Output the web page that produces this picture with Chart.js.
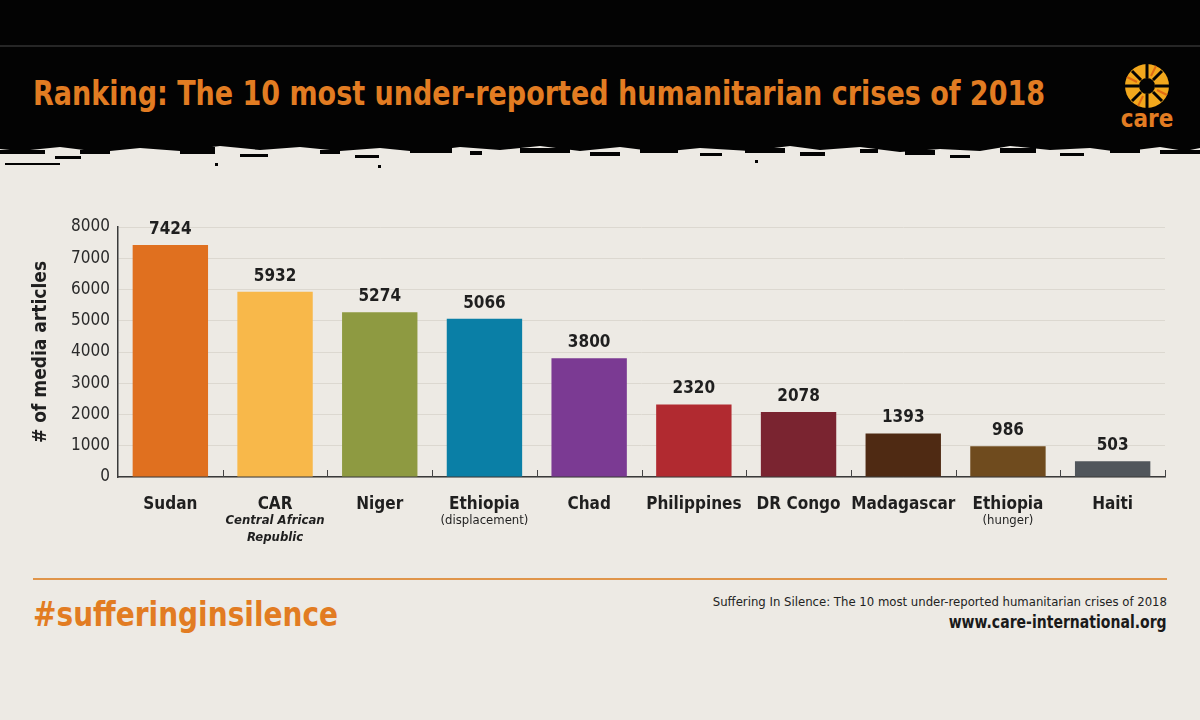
<!DOCTYPE html>
<html>
<head>
<meta charset="utf-8">
<script src="https://cdn.jsdelivr.net/npm/chart.js@4"></script>
<style>
  html, body { margin: 0; padding: 0; }
  body {
    width: 1200px; height: 720px; overflow: hidden; position: relative;
    background: #edeae4;
    font-family: "DejaVu Sans Condensed", "DejaVu Sans", sans-serif;
  }
  #kopf { position: absolute; left: 0; top: 0; width: 1200px; height: 175px; }
  .fit { transform-origin: 0 50%; white-space: nowrap; }
  #titel {
    position: absolute; left: 33px; top: 74px;
    color: #e27c22; font-weight: bold; font-size: 33px;
  }
  #chart-box { position: absolute; left: 30px; top: 190px; width: 1150px; height: 370px; }
  #linie { position: absolute; left: 33px; top: 578px; width: 1134px; height: 2px; background: #e0954a; }
  #hashtag {
    position: absolute; left: 33px; top: 594px;
    color: #e27c22; font-weight: bold; font-size: 34px;
  }
  #quelle {
    position: absolute; right: 33px; top: 594px; text-align: right;
    color: #222; font-size: 13px; white-space: nowrap;
  }
  #web {
    position: absolute; right: 33px; top: 611px;
    color: #1a1a1a; font-size: 18px; font-weight: bold;
    transform-origin: 100% 50%;
  }
</style>
</head>
<body>

<!-- Kopfbereich mit Pinselkante -->
<svg id="kopf" width="1200" height="175" viewBox="0 0 1200 175">
  <rect x="0" y="0" width="1200" height="45" fill="#030303"/>
  <rect x="0" y="45" width="1200" height="2" fill="#262626"/>
  <path d="M0 47 H1200 V148 L1185 151 L1160 147 L1120 152 L1090 148 L1050 150 L1010 146 L980 151 L940 149
           L900 152 L860 147 L820 150 L790 146 L750 151 L700 148 L660 152 L620 147 L580 151 L540 146 L500 150
           L460 147 L420 152 L380 148 L340 151 L300 147 L260 150 L220 146 L180 151 L140 148 L100 152 L60 147
           L20 151 L0 149 Z" fill="#030303"/>
  <g fill="#030303">
    <rect x="0" y="150" width="45" height="4"/>
    <rect x="55" y="156" width="26" height="3"/>
    <rect x="80" y="150" width="30" height="4"/>
    <rect x="180" y="147" width="35" height="7"/>
    <rect x="240" y="154" width="28" height="3"/>
    <rect x="320" y="150" width="20" height="4"/>
    <rect x="355" y="155" width="24" height="3"/>
    <rect x="410" y="148" width="42" height="5"/>
    <rect x="470" y="151" width="12" height="4"/>
    <rect x="520" y="148" width="50" height="5"/>
    <rect x="590" y="152" width="30" height="4"/>
    <rect x="640" y="147" width="38" height="6"/>
    <rect x="700" y="153" width="22" height="3"/>
    <rect x="745" y="148" width="40" height="5"/>
    <rect x="800" y="152" width="25" height="4"/>
    <rect x="860" y="149" width="18" height="4"/>
    <rect x="905" y="150" width="30" height="5"/>
    <rect x="950" y="155" width="20" height="3"/>
    <rect x="1000" y="148" width="36" height="5"/>
    <rect x="1060" y="153" width="24" height="3"/>
    <rect x="1110" y="148" width="30" height="5"/>
    <rect x="1160" y="150" width="40" height="4"/>
    <rect x="5" y="163" width="55" height="2"/>
    <rect x="215" y="163" width="3" height="3"/>
    <rect x="378" y="165" width="3" height="3"/>
    <rect x="755" y="160" width="3" height="3"/>
  </g>
  <!-- Logo -->
  <g transform="translate(1147,86)">
    <circle r="22" fill="#f2a81d"/>
    <g stroke="#030303" stroke-width="3">
      <line x1="0" y1="-8" x2="0" y2="-22"/>
      <line x1="8" y1="0" x2="22" y2="0"/>
      <line x1="0" y1="8" x2="0" y2="22"/>
      <line x1="-8" y1="0" x2="-22" y2="0"/>
      <line x1="6" y1="-6" x2="15" y2="-15"/>
      <line x1="6" y1="6" x2="15" y2="15"/>
      <line x1="-6" y1="6" x2="-15" y2="15"/>
      <line x1="-6" y1="-6" x2="-15" y2="-15"/>
    </g>
    <g stroke="#e06a12" stroke-width="2">
      <line x1="4" y1="-10" x2="9" y2="-20"/>
      <line x1="10" y1="4" x2="20" y2="9"/>
      <line x1="-4" y1="10" x2="-9" y2="20"/>
      <line x1="-10" y1="-4" x2="-20" y2="-9"/>
    </g>
    <circle r="8" fill="#030303"/>
    <text x="0" y="41" text-anchor="middle" fill="#e27c22" font-weight="bold" font-size="24"
          font-family="DejaVu Sans Condensed, sans-serif">care</text>
  </g>
</svg>
<div id="titel" class="fit">Ranking: The 10 most under-reported humanitarian crises of 2018</div>

<div id="chart-box"><canvas id="chart-krisen"></canvas></div>

<div id="linie"></div>
<div id="hashtag" class="fit">#sufferinginsilence</div>
<div id="quelle">Suffering In Silence: The 10 most under-reported humanitarian crises of 2018</div>
<div id="web" class="fit">www.care-international.org</div>

<script>
// ── Daten ──
const laender    = ['Sudan', 'CAR', 'Niger', 'Ethiopia', 'Chad', 'Philippines', 'DR Congo', 'Madagascar', 'Ethiopia', 'Haiti'];
const zusatz     = ['', 'Central African\nRepublic', '', '(displacement)', '', '', '', '', '(hunger)', ''];
const artikel    = [7424, 5932, 5274, 5066, 3800, 2320, 2078, 1393, 986, 503];
const yTicks     = [0, 1000, 2000, 3000, 4000, 5000, 6000, 7000, 8000];
const balkenFarben = ['#e0701f', '#f8b84a', '#8e9a41', '#0a7fa6', '#7b3a93', '#b12a30', '#7a2430', '#4f2a13', '#6f4b1e', '#51565b'];

const SCHRIFT = '"DejaVu Sans Condensed", "DejaVu Sans", sans-serif';

// schmale Schrift nachbilden: Text auf Zielbreite stauchen
function aufBreite(id, breite) {
  const el = document.getElementById(id);
  const w = el.getBoundingClientRect().width;
  el.style.transform = 'scaleX(' + (breite / w) + ')';
}
aufBreite('titel', 1012);
aufBreite('hashtag', 305);
aufBreite('web', 218);

// ── Plugin: Werte, Zusatzzeilen, Achsenstriche ──
const extras = {
  id: 'extras',
  afterDatasetsDraw(chart) {
    const ctx = chart.ctx;
    const meta = chart.getDatasetMeta(0);
    const xs = chart.scales.x;
    const area = chart.chartArea;
    ctx.save();

    // Werte über den Balken
    ctx.fillStyle = '#1f1f1f';
    ctx.font = 'bold 17px ' + SCHRIFT;
    ctx.textAlign = 'center';
    ctx.textBaseline = 'bottom';
    meta.data.forEach((bar, i) => {
      ctx.fillText(String(artikel[i]), bar.x, bar.y - 7);
    });

    // kleine Striche zwischen den Kategorien (nach oben)
    ctx.strokeStyle = '#444';
    ctx.lineWidth = 1;
    for (let i = 1; i <= laender.length; i++) {
      const x = Math.round(xs.getPixelForValue(i - 0.5)) + 0.5;
      ctx.beginPath();
      ctx.moveTo(x, area.bottom);
      ctx.lineTo(x, area.bottom - 7);
      ctx.stroke();
    }

    // Zusatzzeilen unter den Ländernamen
    ctx.fillStyle = '#1f1f1f';
    ctx.textBaseline = 'middle';
    zusatz.forEach((txt, i) => {
      if (!txt) return;
      const kursiv = !txt.startsWith('(');
      ctx.font = (kursiv ? 'italic bold ' : '') + '13px ' + SCHRIFT;
      const x = xs.getPixelForValue(i);
      txt.split('\n').forEach((zeile, j) => {
        ctx.fillText(zeile, x, area.bottom + 44 + j * 17);
      });
    });
    ctx.restore();
  }
};

new Chart(document.getElementById('chart-krisen'), {
  type: 'bar',
  data: {
    labels: laender,
    datasets: [{
      data: artikel,
      backgroundColor: balkenFarben,
      borderWidth: 0,
      barPercentage: 0.72,
      categoryPercentage: 1.0
    }]
  },
  options: {
    responsive: true,
    maintainAspectRatio: false,
    animation: false,
    layout: { padding: { top: 37, right: 15, left: 0, bottom: 0 } },
    plugins: {
      legend: { display: false },
      tooltip: { enabled: false }
    },
    scales: {
      x: {
        afterFit: s => { s.height = 83; },
        grid: { display: true, drawOnChartArea: false, drawTicks: false },
        border: { display: true, color: '#3a3a3a', width: 1.5 },
        ticks: {
          color: '#1f1f1f', padding: 17, autoSkip: false, maxRotation: 0, minRotation: 0,
          font: { family: SCHRIFT, size: 17, weight: 'bold' }
        }
      },
      y: {
        min: 0,
        max: 8000,
        afterFit: s => { s.width = 88; },
        afterBuildTicks: s => { s.ticks = yTicks.map(v => ({ value: v })); },
        grid: { color: '#dcd8d0', lineWidth: 1, drawTicks: false },
        border: { display: true, color: '#3a3a3a', width: 1.5 },
        ticks: {
          color: '#2a2a2a', padding: 8,
          font: { family: SCHRIFT, size: 17 },
          callback: v => String(v)
        },
        title: {
          display: true,
          text: '# of media articles',
          color: '#1f1f1f',
          padding: { top: 0, bottom: 0 },
          font: { family: SCHRIFT, size: 19, weight: 'bold' }
        }
      }
    }
  },
  plugins: [extras]
});
</script>
</body>
</html>
